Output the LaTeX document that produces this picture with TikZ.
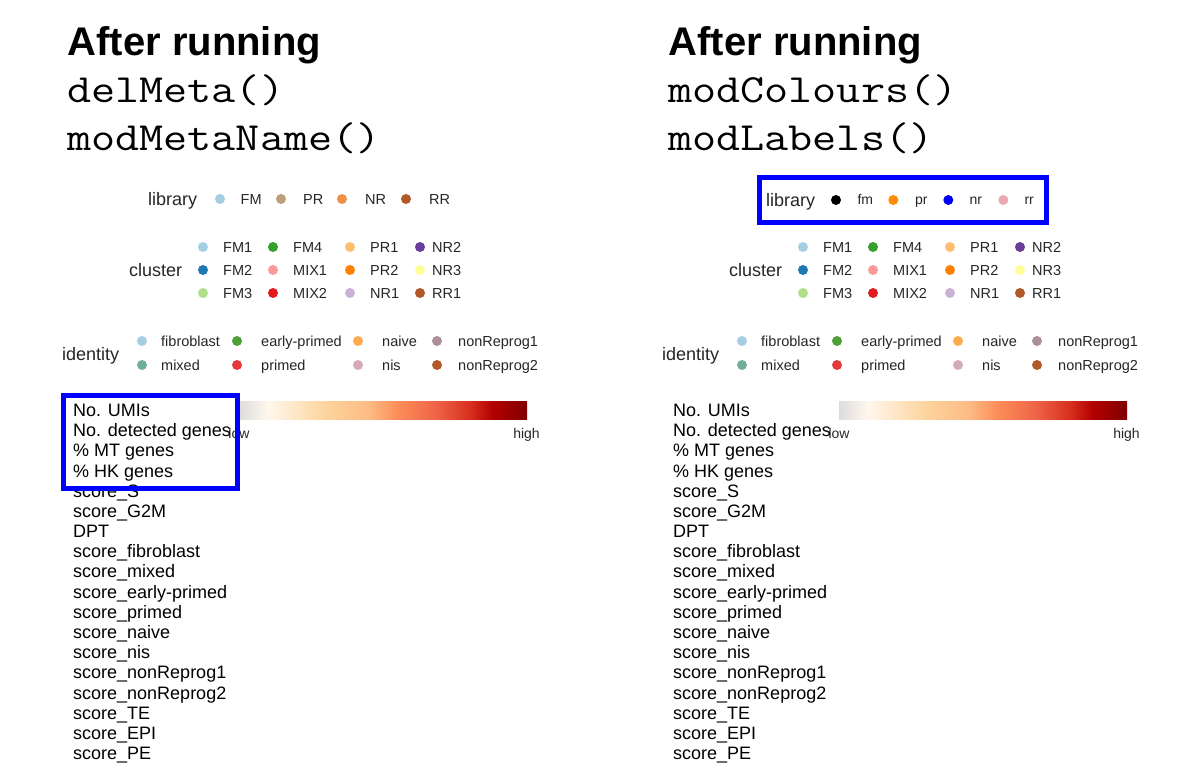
\documentclass[tikz,border=0pt]{standalone}
\usepackage{fontspec}
\setmainfont{Liberation Sans}
\newfontfamily\codefont[FakeStretch=1.17]{Latin Modern Mono}
\definecolor{s0}{HTML}{DCDCDC}
\definecolor{s1}{HTML}{FFF7EC}
\definecolor{s2}{HTML}{FDD49E}
\definecolor{s3}{HTML}{FDBB84}
\definecolor{s4}{HTML}{FC8D59}
\definecolor{s5}{HTML}{EF6548}
\definecolor{s6}{HTML}{D7301F}
\definecolor{s7}{HTML}{B30000}
\definecolor{s8}{HTML}{7F0000}
\pgfdeclarehorizontalshading{orrd}{100bp}{color(0bp)=(s0); color(25bp)=(s0); color(30bp)=(s1); color(40bp)=(s2); color(47.5bp)=(s3); color(52.5bp)=(s4); color(59bp)=(s5); color(65bp)=(s6); color(69bp)=(s7); color(75bp)=(s8); color(100bp)=(s8)}
\definecolor{pa1}{HTML}{A6CEE3}
\definecolor{pa2}{HTML}{1F78B4}
\definecolor{pa3}{HTML}{B2DF8A}
\definecolor{pa4}{HTML}{33A02C}
\definecolor{pa5}{HTML}{FB9A99}
\definecolor{pa6}{HTML}{E31A1C}
\definecolor{pa7}{HTML}{FDBF6F}
\definecolor{pa8}{HTML}{FF7F00}
\definecolor{pa9}{HTML}{CAB2D6}
\definecolor{pa10}{HTML}{6A3D9A}
\definecolor{pa11}{HTML}{FFFF99}
\definecolor{pa12}{HTML}{B15928}
\definecolor{libPR}{HTML}{BC9E78}
\definecolor{libNR}{HTML}{F08F48}
\definecolor{idmixed}{HTML}{6FAE9A}
\definecolor{idearly}{HTML}{4DA038}
\definecolor{idprimed}{HTML}{E5383B}
\definecolor{idnaive}{HTML}{FEA94C}
\definecolor{idnis}{HTML}{D4A9B8}
\definecolor{idnr1}{HTML}{AD8E98}
\definecolor{rrpink}{HTML}{ECA6B4}
\definecolor{darkorange}{HTML}{FF8C00}
\newcommand\panelcommon[1]{%
  % cluster legend
  \node[keyt] (#1clk) at (129,276.4) {cluster};
  \foreach \nm/\col/\dx/\lxx/\yy [count=\k] in {FM1/pa1/203/223/247,FM2/pa2/203/223/270,FM3/pa3/203/223/293,
      FM4/pa4/273/293/247,MIX1/pa5/273/293/270,MIX2/pa6/273/293/293,
      PR1/pa7/350/370/247,PR2/pa8/350/370/270,NR1/pa9/350/370/293,
      NR2/pa10/420/432/247,NR3/pa11/420/432/270,RR1/pa12/420/432/293}{
    \node[ldot=\col] (#1cd\k) at (\dx,\yy) {};
    \node[lab] (#1cl\k) at (\lxx,\yy+5.2) {\nm};
  }
  % identity legend
  \node[keyt] (#1idk) at (62,360.4) {identity};
  \foreach \nm/\col/\dx/\lxx/\yy [count=\k] in {fibroblast/pa1/142/161/341,mixed/idmixed/142/161/365,
      early-primed/idearly/237/261/341,primed/idprimed/237/261/365,
      naive/idnaive/358/382/341,nis/idnis/358/382/365,
      nonReprog1/idnr1/437/458/341,nonReprog2/pa12/437/458/365}{
    \node[ldot=\col] (#1id\k) at (\dx,\yy) {};
    \node[lab] (#1il\k) at (\lxx,\yy+5.2) {\nm};
  }
  % colour bar
  \node[cbar, anchor=north west] (#1bar) at (239,401) {};
  \node[blab, anchor=base] (#1low) at (239,439) {low};
  \node[blab, anchor=base] (#1high) at (526.5,439) {high};
  % rows
  \foreach \t [count=\i] in {No. UMIs,No. detected genes,\% MT genes,\% HK genes,score\_S,score\_G2M,DPT,score\_fibroblast,score\_mixed,score\_early-primed,score\_primed,score\_naive,score\_nis,score\_nonReprog1,score\_nonReprog2,score\_TE,score\_EPI,score\_PE}{
    \node[row] (#1r\i) at (73,416.5+20.18*\i-20.18) {\t};
  }
}
\begin{document}
\begin{tikzpicture}[x=1pt,y=-1pt,
  titlet/.style={anchor=base west, inner sep=0, font=\fontsize{40}{40}\selectfont\bfseries},
  codet/.style={anchor=base west, inner sep=0, font=\fontsize{40}{40}\selectfont\codefont},
  keyt/.style={anchor=base west, inner sep=0, font=\fontsize{18}{18}\selectfont, text=black!85},
  lab/.style={anchor=base west, inner sep=0, font=\fontsize{14.5}{14.5}\selectfont, text=black!85},
  rlab/.style={anchor=base west, inner sep=0, font=\fontsize{14}{14}\selectfont, text=black!85},
  blab/.style={inner sep=0, font=\fontsize{14}{14}\selectfont, text=black!85},
  row/.style={anchor=base west, inner sep=0, font=\fontsize{18}{18}\selectfont},
  ldot/.style={circle, inner sep=0, minimum size=10pt, fill=#1},
  cbar/.style={inner sep=0, minimum width=288pt, minimum height=18pt, shading=orrd},
  hl/.style={draw=blue, line width=5pt}]
\useasboundingbox (0,0) rectangle (1200,775);
\fill[white] (0,0) rectangle (1200,775);
% ---------- left panel ----------
\node[titlet] (lt) at (67.5,55.5) {After running};
\node[codet] (lc1) at (67,102.5) {delMeta()};
\node[codet] (lc2) at (67,150.5) {modMetaName()};
\node[keyt] (llibk) at (148,205.4) {library};
\foreach \nm/\col/\dx/\lxx [count=\k] in {FM/pa1/220/240.5,PR/libPR/281/303,NR/libNR/342/365,RR/pa12/406/429}{
  \node[ldot=\col] (llibd\k) at (\dx,199) {};
  \node[lab] (llibl\k) at (\lxx,204.2) {\nm};
}
\panelcommon{L}
\node[hl, inner sep=0, minimum width=174.5pt, minimum height=93pt, anchor=north west] (lbox) at (60.5,393) {};
% ---------- right panel ----------
\node[titlet] (rt) at (668.5,55.5) {After running};
\node[codet] (rc1) at (668,102.5) {modColours()};
\node[codet] (rc2) at (668,150.5) {modLabels()};
\node[keyt] (rlibk) at (766,206.3) {library};
\foreach \nm/\col/\dx/\lxx [count=\k] in {fm/black/836/857.3,pr/darkorange/893.3/915,nr/blue/948.3/969.3,rr/rrpink/1003.3/1024.3}{
  \node[ldot=\col] (rlibd\k) at (\dx,200) {};
  \node[rlab] (rlibl\k) at (\lxx,205) {\nm};
}
\begin{scope}[shift={(600,0)}]
\panelcommon{R}
\end{scope}
\node[hl, inner sep=0, minimum width=287pt, minimum height=45pt, anchor=north west] (rbox) at (756.5,175) {};
\end{tikzpicture}
\end{document}
